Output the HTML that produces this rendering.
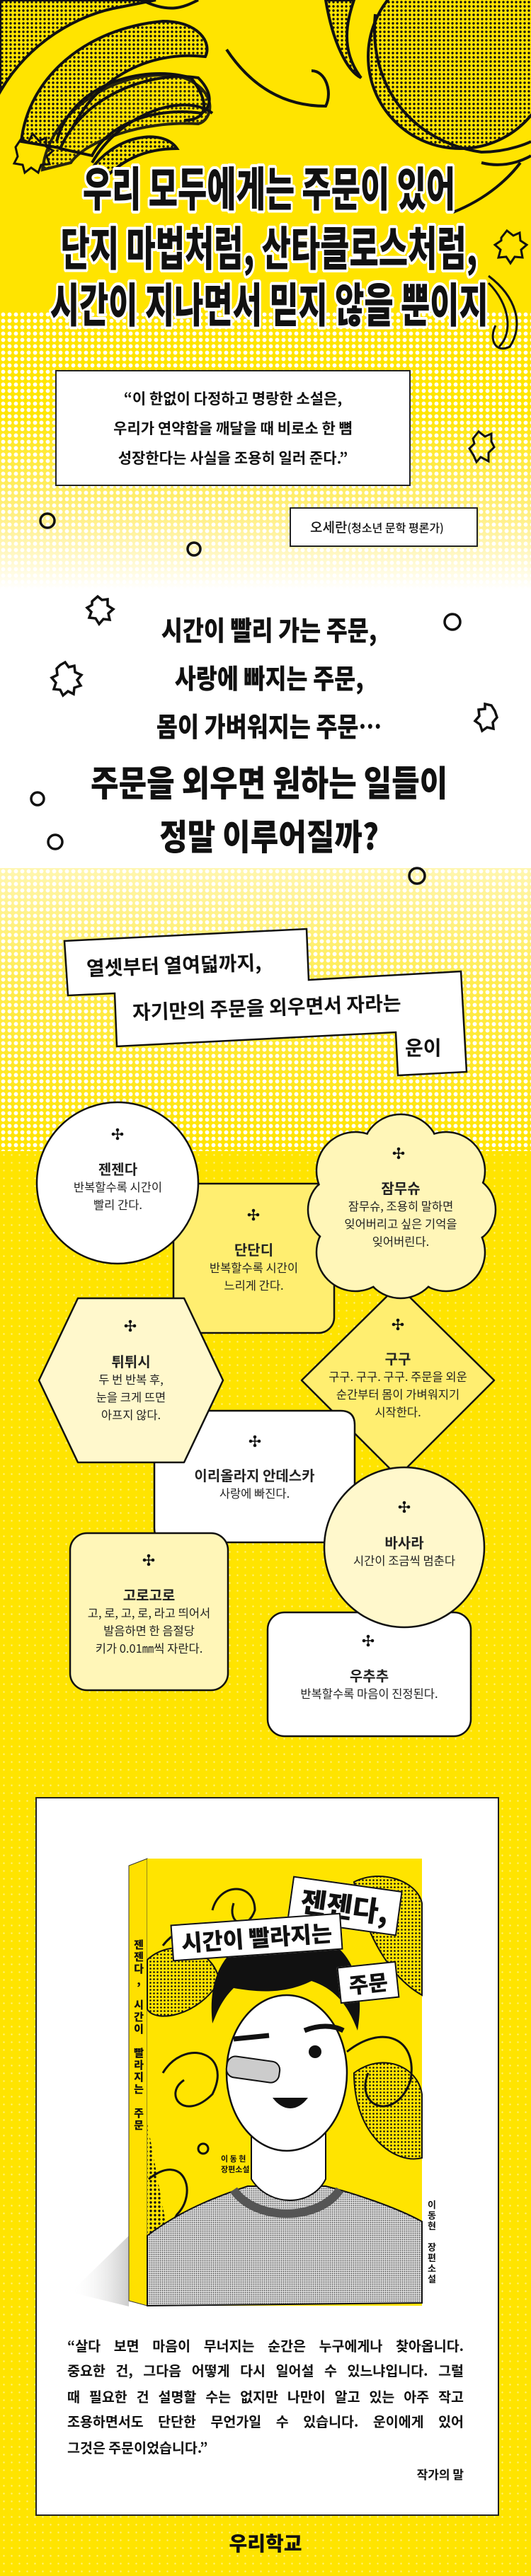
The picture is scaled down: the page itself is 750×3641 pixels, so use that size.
<!DOCTYPE html>
<html><head><meta charset="utf-8">
<style>
*{margin:0;padding:0;box-sizing:border-box}
body{width:750px;height:3641px;overflow:hidden;position:relative;background:#FFE400;font-family:"Liberation Sans","Noto Sans CJK KR",sans-serif;color:#111}
.abs{position:absolute}
.c{position:absolute;left:0;width:750px;text-align:center;white-space:nowrap}
.w{left:-495px;width:1750px}
.hl{font-family:"Noto Sans CJK KR",sans-serif;font-weight:900;font-size:66px;line-height:80px;color:#111;
 text-shadow:4px 0 #fff,-4px 0 #fff,0 4px #fff,0 -4px #fff,3px 3px #fff,-3px 3px #fff,3px -3px #fff,-3px -3px #fff,2px 4px #fff,-2px 4px #fff,4px 2px #fff,-4px 2px #fff,2px -4px #fff,-2px -4px #fff,4px -2px #fff,-4px -2px #fff}
.hl span,.mid span{display:inline-block;transform:scaleX(0.68)}
.mid{font-family:"Noto Sans CJK KR",sans-serif;font-weight:900;color:#111}
.mid span{transform:scaleX(0.86)}
.q{font-family:"Noto Sans CJK KR",sans-serif;font-weight:700;font-size:21px;line-height:30px}
.sh{position:absolute;text-align:center;font-family:"Noto Sans CJK KR",sans-serif;color:#222}
.sh b{display:block;font-size:20px;font-weight:700;line-height:26px}
.sh p{font-size:16.5px;line-height:25px}
.fq{position:absolute;left:95px;width:560px;font-family:"Noto Sans CJK KR",sans-serif;font-weight:700;font-size:19.5px;line-height:36px;text-align:justify;text-align-last:justify;white-space:nowrap}
</style></head><body>

<div class="abs" style="left:0;top:440px;width:750px;height:393px;background:radial-gradient(circle,#fff 2.6px,transparent 3.2px) 0 0/9px 9px,linear-gradient(#FFE400 0%,#FFE600 35%,#FFF08A 75%,#fff 100%)"></div>
<div class="abs" style="left:0;top:833px;width:750px;height:394px;background:#fff"></div>
<div class="abs" style="left:0;top:1227px;width:750px;height:400px;background:radial-gradient(circle,#fff 2.6px,transparent 3.2px) 0 0/9px 9px,linear-gradient(#FFF6B0 0%,#FFEC50 40%,#FFE400 100%)"></div>
<div class="abs" style="left:0;top:1627px;width:750px;height:2014px;background:radial-gradient(circle,rgba(255,255,255,.45) 1px,transparent 1.5px) 0 0/11px 11px,#FFE400"></div>

<svg class="abs" style="left:0;top:0" width="750" height="520">
<defs>
<pattern id="ht" width="6" height="6" patternUnits="userSpaceOnUse"><circle cx="3" cy="3" r="1.7" fill="#111"/></pattern>
</defs>
<g stroke="#111" stroke-width="4" fill="#FFE400">
<path d="M0 130 C40 60 110 20 170 10 L220 0 L0 0 Z" fill="url(#ht)"/>
<path d="M30 200 C40 110 120 40 230 30 C280 30 300 60 290 80 C200 70 120 120 90 210 Z" fill="url(#ht)"/>
<path d="M85 210 C120 130 220 100 280 110 C300 130 300 150 285 160 C210 150 150 180 130 220 Z"/>
<path d="M80 200 C100 120 200 90 270 110 C300 150 290 170 260 170" fill="none"/>
<path d="M60 240 C70 150 180 90 260 110 C310 130 300 170 280 175 C200 170 120 200 100 230 Z" fill="url(#ht)" opacity=".9"/>
<path d="M130 230 C170 160 260 130 300 160" fill="none"/>
<path d="M125 245 C160 190 230 180 250 210 C200 210 170 230 150 250 Z" fill="url(#ht)"/>
<path d="M200 0 C240 20 260 10 280 0" fill="none"/>
<path d="M320 70 C360 130 410 150 460 150 C470 130 460 100 440 100" fill="none"/>
<path d="M460 0 C470 60 490 100 510 110 C480 70 490 30 500 0 Z" fill="url(#ht)"/>
<ellipse cx="650" cy="80" rx="130" ry="130" fill="url(#ht)"/>
<path d="M530 20 C520 120 580 200 680 215 C720 215 750 200 750 200" fill="none"/>
<path d="M680 230 C720 240 750 220 750 220" fill="none"/>
<path d="M640 300 C690 280 720 250 735 230" fill="none"/>
<path d="M690 390 C730 420 740 460 720 490 C700 500 690 480 700 460" fill="none" stroke-width="3"/>
<path d="M690 400 C720 430 725 470 705 490" fill="none" stroke-width="3"/>
</g>
<g fill="none" stroke="#111" stroke-width="3">
<path d="M22 208 l8-12 10 5 6-12 9 10 10-4 0 12 10 6-9 8 4 11-12 1-4 11-10-7-9 7-3-11-12-2 5-10z"/>
<path d="M708 336 l8-10 9 7 9-4 1 11 9 6-8 7 2 11-11-1-6 9-6-9-11 1 3-11-8-7 9-6z"/>
</g>
</svg>

<div class="c w hl" style="top:223px"><span>우리 모두에게는 주문이 있어</span></div>
<div class="c w hl" style="top:307px"><span>단지 마법처럼, 산타클로스처럼,</span></div>
<div class="c w hl" style="top:387px"><span>시간이 지나면서 믿지 않을 뿐이지</span></div>

<div class="abs" style="left:78px;top:523px;width:502px;height:164px;background:#fff;border:2px solid #222"></div>
<div class="c q" style="left:-46px;top:548px">“이 한없이 다정하고 명랑한 소설은,</div>
<div class="c q" style="left:-46px;top:590px">우리가 연약함을 깨달을 때 비로소 한 뼘</div>
<div class="c q" style="left:-46px;top:632px">성장한다는 사실을 조용히 일러 준다.”</div>
<svg class="abs" style="left:660px;top:600px" width="40" height="60"><path d="M8 20 l8-10 9 7 9-4 0 11 4 8-8 8 0 12-11-6-6 7-4-9-6-10 7-7z" fill="none" stroke="#111" stroke-width="3"/></svg>

<div class="abs" style="left:409px;top:717px;width:266px;height:56px;background:#fff;border:2px solid #222"></div>
<div class="abs q" style="left:438px;top:730px;font-size:19px;font-weight:500;white-space:nowrap">오세란<span style="font-size:16px">(청소년 문학 평론가)</span></div>

<svg class="abs" style="left:0;top:700px" width="750" height="560">
<g fill="none" stroke="#111" stroke-width="3.5">
<circle cx="67" cy="36" r="10"/><circle cx="274" cy="76" r="9"/>
<circle cx="639" cy="179" r="11"/><circle cx="53" cy="429" r="9"/><circle cx="78" cy="490" r="10"/><circle cx="589" cy="538" r="11"/>
<path d="M130 150 l8-7 6 5 8-1 0 9 8 5-7 6 2 9-9-1-6 7-5-8-9-1 3-8-6-6 7-4z"/>
<path d="M85 240 l7-4 5 7 8-2 1 9 9 4-6 7 5 8-9 3-1 9-8-4-7 6-4-8-9-1 3-9-6-7 8-4-1-9z"/>
<path d="M685 295 l9 2 5 8 3 9-6 7 1 9-9-2-7 5-3-9-7-5 6-7-1-9 9-1z"/>
</g></svg>

<div class="c w mid" style="top:866px;font-size:38px;line-height:46px"><span>시간이 빨리 가는 주문,</span></div>
<div class="c w mid" style="top:934px;font-size:38px;line-height:46px"><span>사랑에 빠지는 주문,</span></div>
<div class="c w mid" style="top:1002px;font-size:38px;line-height:46px"><span>몸이 가벼워지는 주문…</span></div>
<div class="c w mid" style="top:1074px;font-size:50px;line-height:60px"><span>주문을 외우면 원하는 일들이</span></div>
<div class="c w mid" style="top:1150px;font-size:50px;line-height:60px"><span>정말 이루어질까?</span></div>

<svg class="abs" style="left:0;top:1300px" width="750" height="240">
<polygon points="91,30 433,13 436,85 651,73 659,215 562,220 559,159 165,179 162,104 96,107" fill="#fff" stroke="#111" stroke-width="2.5" stroke-linejoin="miter"/>
</svg>
<div class="abs mid" style="left:122px;top:1350px;font-size:28px;font-weight:700;line-height:36px;white-space:nowrap;transform:rotate(-2deg);transform-origin:left center">열셋부터 열여덟까지,</div>
<div class="abs mid" style="left:187px;top:1412px;font-size:28px;font-weight:700;line-height:36px;white-space:nowrap;transform:rotate(-2deg);transform-origin:left center">자기만의 주문을 외우면서 자라는</div>
<div class="abs mid" style="left:572px;top:1462px;font-size:28px;font-weight:700;line-height:36px;white-space:nowrap">운이</div>

<svg class="abs" style="left:0;top:1540px" width="750" height="940">
<defs><g id="cr"><circle cx="0" cy="-6" r="2.3"/><circle cx="0" cy="6" r="2.3"/><circle cx="-6" cy="0" r="2.3"/><circle cx="6" cy="0" r="2.3"/><rect x="-0.8" y="-6" width="1.6" height="12"/><rect x="-6" y="-0.8" width="12" height="1.6"/></g></defs>
<g stroke="#111" stroke-width="2.5" stroke-linejoin="round">
<rect x="245" y="133" width="227" height="211" rx="22" fill="#FFEE70"/>
<polygon points="562,277 698,411 562,547 426,411" fill="#FFEE70"/>
<g fill="#FFF6B8">
<circle cx="566" cy="90" r="55"/><circle cx="630" cy="115" r="55"/><circle cx="650" cy="170" r="50"/><circle cx="630" cy="230" r="55"/>
<circle cx="566" cy="240" r="55"/><circle cx="502" cy="230" r="55"/><circle cx="485" cy="170" r="50"/><circle cx="502" cy="115" r="55"/>
</g>
<circle cx="566" cy="167" r="105" fill="#FFF6B8" stroke="none"/>
<g fill="#FFF6B8" stroke="none">
<circle cx="566" cy="90" r="53.5"/><circle cx="630" cy="115" r="53.5"/><circle cx="650" cy="170" r="48.5"/><circle cx="630" cy="230" r="53.5"/>
<circle cx="566" cy="240" r="53.5"/><circle cx="502" cy="230" r="53.5"/><circle cx="485" cy="170" r="48.5"/><circle cx="502" cy="115" r="53.5"/>
</g>
<circle cx="166" cy="132" r="114" fill="#fff"/>
<path d="M218 454 H481 Q501 454 501 474 V620 Q501 640 481 640 H238 Q218 640 218 620 Z" fill="#fff"/>
<polygon points="55,411 110,295 260,295 315,411 260,527 110,527" fill="#FFF8CC"/>
<rect x="99" y="627" width="223" height="222" rx="24" fill="#FFF6B8"/>
<rect x="378" y="739" width="287" height="175" rx="24" fill="#fff"/>
<circle cx="571" cy="647" r="113" fill="#FFF8CC"/>
</g>
<g fill="#111">
<use href="#cr" x="166" y="63"/><use href="#cr" x="358" y="177"/><use href="#cr" x="563" y="90"/>
<use href="#cr" x="184" y="334"/><use href="#cr" x="562" y="332"/><use href="#cr" x="360" y="497"/>
<use href="#cr" x="571" y="590"/><use href="#cr" x="210" y="665"/><use href="#cr" x="520" y="779"/>
</g></svg>

<div class="sh" style="left:53px;width:227px;top:1639px"><b>젠젠다</b><p>반복할수록 시간이<br>빨리 간다.</p></div>
<div class="sh" style="left:245px;width:227px;top:1753px"><b>단단디</b><p>반복할수록 시간이<br>느리게 간다.</p></div>
<div class="sh" style="left:438px;width:256px;top:1666px"><b>잠무슈</b><p>잠무슈, 조용히 말하면<br>잊어버리고 싶은 기억을<br>잊어버린다.</p></div>
<div class="sh" style="left:55px;width:260px;top:1911px"><b>튀튀시</b><p>두 번 반복 후,<br>눈을 크게 뜨면<br>아프지 않다.</p></div>
<div class="sh" style="left:426px;width:272px;top:1907px"><b>구구</b><p>구구. 구구. 구구. 주문을 외운<br>순간부터 몸이 가벼워지기<br>시작한다.</p></div>
<div class="sh" style="left:218px;width:283px;top:2072px"><b>이리올라지 안데스카</b><p>사랑에 빠진다.</p></div>
<div class="sh" style="left:458px;width:226px;top:2167px"><b>바사라</b><p>시간이 조금씩 멈춘다</p></div>
<div class="sh" style="left:99px;width:223px;top:2241px"><b>고로고로</b><p>고, 로, 고, 로, 라고 띄어서<br>발음하면 한 음절당<br>키가 0.01㎜씩 자란다.</p></div>
<div class="sh" style="left:378px;width:287px;top:2355px"><b>우추추</b><p>반복할수록 마음이 진정된다.</p></div>

<div class="abs" style="left:50px;top:2540px;width:655px;height:1016px;background:#fff;border:2px solid #222"></div>
<svg class="abs" style="left:0;top:2600px" width="750" height="680">
<defs>
<linearGradient id="sd" x1="1" x2="0"><stop offset="0" stop-color="#aaa"/><stop offset="1" stop-color="#fff" stop-opacity="0"/></linearGradient>
<pattern id="ht2" width="5" height="5" patternUnits="userSpaceOnUse"><circle cx="2.5" cy="2.5" r="1.3" fill="#111"/></pattern>
<pattern id="gr" width="3" height="3" patternUnits="userSpaceOnUse"><rect width="3" height="3" fill="#ddd"/><circle cx="1.5" cy="1.5" r="0.9" fill="#555"/></pattern>
</defs>
<polygon points="182,560 100,640 182,660" fill="url(#sd)" opacity=".6"/>
<polygon points="182,37 208,27 208,659 182,652" fill="#FFE000" stroke="#333" stroke-width="1"/>
<rect x="208" y="27" width="388" height="632" fill="#FFE400"/>
<g stroke="#111" stroke-width="3" fill="none">
<path d="M230 150 C260 110 330 110 350 150" /><path d="M300 100 C310 60 360 60 360 100 C350 130 320 120 330 90"/>
<path d="M230 330 C260 280 330 300 300 360 C260 400 230 360 260 340"/>
<path d="M210 480 C260 440 280 500 250 530 C230 560 270 580 260 600"/>
<path d="M490 300 C540 260 590 280 580 340 C560 400 500 380 520 330"/>
<circle cx="437" cy="73" r="6"/><circle cx="287" cy="437" r="7"/>
</g>
<path d="M208 170 C240 140 300 150 310 200 C280 250 220 260 208 240 Z" fill="url(#ht2)" stroke="#111" stroke-width="2"/>
<path d="M500 60 C540 40 590 60 596 90 L596 220 C560 200 520 150 500 60 Z" fill="url(#ht2)" stroke="#111" stroke-width="2"/>
<path d="M500 330 C540 300 590 320 596 360 L596 450 C560 460 500 420 500 330 Z" fill="url(#ht2)" stroke="#111" stroke-width="2"/>
<path d="M208 400 L208 600 C230 590 240 560 230 520 Z" fill="url(#ht)"/>
<path d="M208 560 C260 520 320 500 350 490 L460 490 C500 500 560 520 596 540 L596 655 L208 659 Z" fill="url(#gr)" stroke="#111" stroke-width="2"/>
<path d="M330 495 C360 540 450 540 480 495" fill="none" stroke="#555" stroke-width="12"/>
<path d="M355 380 L355 480 C380 520 440 520 460 480 L460 380 Z" fill="#fff" stroke="#111" stroke-width="2"/>
<ellipse cx="405" cy="330" rx="85" ry="110" fill="#fff" stroke="#111" stroke-width="2.5"/>
<path d="M300 260 C290 170 340 130 410 130 C480 130 520 180 505 270 C490 230 470 210 440 200 C400 220 360 215 330 210 C310 230 305 250 300 260 Z" fill="#111"/>
<path d="M330 282 l50 -5" stroke="#111" stroke-width="7"/><path d="M430 270 c20-8 40-8 55 0" stroke="#111" stroke-width="7" fill="none"/>
<circle cx="445" cy="300" r="9" fill="#111"/>
<rect x="320" y="310" width="75" height="30" rx="12" fill="#ccc" stroke="#111" stroke-width="2" transform="rotate(8 357 325)"/>
<path d="M385 365 C400 385 420 385 435 365 Z" fill="#111"/>
<text x="312" y="455" font-family="Noto Sans CJK KR" font-size="11" font-weight="700" fill="#111">이 동 현</text>
<text x="312" y="470" font-family="Noto Sans CJK KR" font-size="11" font-weight="700" fill="#111">장편소설</text>
</svg>
<div class="abs" style="left:409px;top:2662px;width:156px;height:64px;background:#fff;border:2px solid #111;transform:rotate(8deg);font-family:'Noto Sans CJK KR';font-weight:900;font-size:40px;line-height:58px;text-align:center">젠젠다,</div>
<div class="abs" style="left:242px;top:2712px;width:241px;height:52px;background:#fff;border:2px solid #111;transform:rotate(-4deg);font-family:'Noto Sans CJK KR';font-weight:900;font-size:32px;line-height:48px;text-align:center;white-space:nowrap">시간이 빨라지는</div>
<div class="abs" style="left:478px;top:2776px;width:84px;height:52px;background:#fff;border:2px solid #111;transform:rotate(-6deg);font-family:'Noto Sans CJK KR';font-weight:900;font-size:30px;line-height:48px;text-align:center">주문</div>
<div class="abs" style="left:186px;top:2740px;width:20px;font-family:'Noto Sans CJK KR';font-weight:900;font-size:15px;line-height:17px;text-align:center">젠<br>젠<br>다<br>,<br><br>시<br>간<br>이<br><br>빨<br>라<br>지<br>는<br><br>주<br>문</div>
<div class="abs" style="left:602px;top:3108px;width:16px;font-family:'Noto Sans CJK KR';font-weight:700;font-size:13px;line-height:15px;text-align:center">이<br>동<br>현<br><br>장<br>편<br>소<br>설</div>

<div class="fq" style="top:3297px">“살다 보면 마음이 무너지는 순간은 누구에게나 찾아옵니다.</div>
<div class="fq" style="top:3332px">중요한 건, 그다음 어떻게 다시 일어설 수 있느냐입니다. 그럴</div>
<div class="fq" style="top:3369px">때 필요한 건 설명할 수는 없지만 나만이 알고 있는 아주 작고</div>
<div class="fq" style="top:3404px">조용하면서도 단단한 무언가일 수 있습니다. 운이에게 있어</div>
<div class="fq" style="top:3441px;text-align-last:left">그것은 주문이었습니다.”</div>
<div class="abs" style="left:455px;width:200px;top:3483px;text-align:right;font-family:'Noto Sans CJK KR';font-weight:700;font-size:17px;line-height:28px">작가의 말</div>

<div class="c" style="top:3576px;font-family:'Noto Sans CJK KR';font-weight:900;font-size:28px;line-height:36px">우리학교</div>
</body></html>
